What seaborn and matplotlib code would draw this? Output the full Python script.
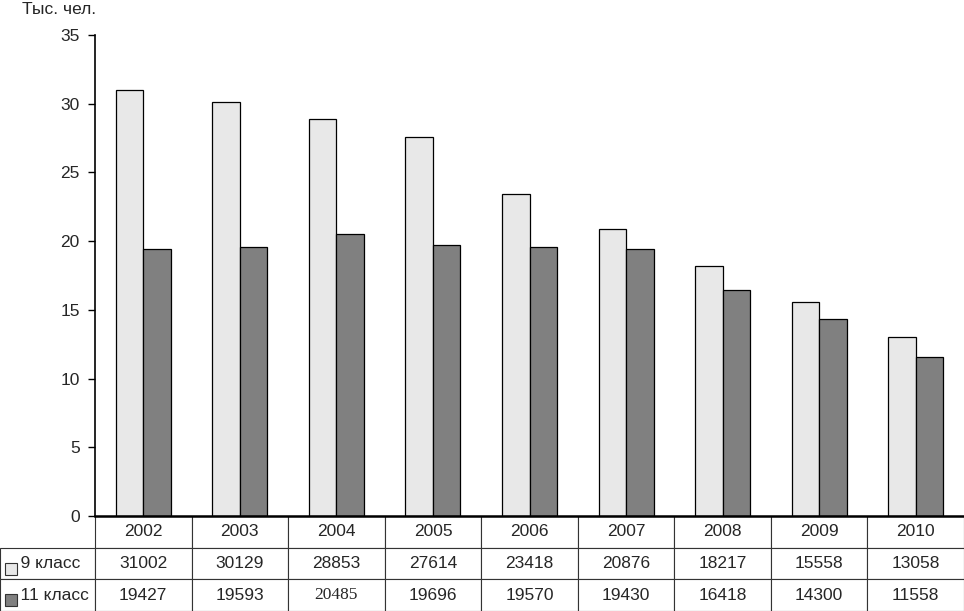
import pandas as pd
import seaborn as sns
import matplotlib.pyplot as plt
from matplotlib.patches import Rectangle

years = ['2002', '2003', '2004', '2005', '2006', '2007', '2008', '2009', '2010']
grade9 = [31002, 30129, 28853, 27614, 23418, 20876, 18217, 15558, 13058]
grade11 = [19427, 19593, 20485, 19696, 19570, 19430, 16418, 14300, 11558]
series_names = ['9 класс', '11 класс']
series_colors = ['#e8e8e8', '#808080']

df = pd.DataFrame({
    'year': years * 2,
    'grade': [series_names[0]] * len(years) + [series_names[1]] * len(years),
    'value': [v / 1000 for v in grade9 + grade11],
})

sns.set_theme(style='white')
plt.rcParams['font.family'] = ['Liberation Sans', 'DejaVu Sans']

W, H = 964, 611
fs = 12.5
fig = plt.figure(figsize=(W / 100, H / 100), dpi=100)
ax = fig.add_axes([95 / W, 1 - 516 / H, 869 / W, 481 / H])

sns.barplot(data=df, x='year', y='value', hue='grade', hue_order=series_names,
            palette=dict(zip(series_names, series_colors)), width=0.57,
            edgecolor='black', linewidth=0.9, legend=False, ax=ax)

ax.set_xlim(-0.5, len(years) - 0.5)
ax.set_ylim(0, 35)
ax.set_yticks(range(0, 36, 5))
ax.tick_params(axis='y', direction='out', length=5, width=1, color='black',
               labelsize=fs, pad=6, left=True)
ax.set_xticks([])
ax.set_xlabel('')
ax.set_ylabel('')
for side in ['top', 'right']:
    ax.spines[side].set_visible(False)
ax.spines['left'].set_color('black')
ax.spines['left'].set_linewidth(1.2)
ax.spines['bottom'].set_color('black')
ax.spines['bottom'].set_linewidth(1.8)
ax.spines['bottom'].set_zorder(5)

# data table under the axis
cell_text = [[''] + years,
             ['    ' + series_names[0]] + [str(v) for v in grade9],
             ['    ' + series_names[1]] + [str(v) for v in grade11]]
col_w = [95 / W] + [869 / 9 / W] * 9
tbl = ax.table(cellText=cell_text, colWidths=col_w, cellLoc='center',
               bbox=[-95 / 869, -95 / 481, W / 869, 95 / 481])
tbl.auto_set_font_size(False)
for (r, c), cell in tbl.get_celld().items():
    cell.set_edgecolor('#333333')
    cell.set_linewidth(0.8)
    cell.get_text().set_fontsize(fs)
    if c == 0:
        cell.get_text().set_horizontalalignment('left')
        cell._loc = 'left'
        cell.PAD = 0.01
tbl[0, 0].visible_edges = ''
tbl[2, 3].get_text().set_fontfamily('Liberation Serif')

# legend keys inside the row label cells
for i, color in enumerate(series_colors):
    fig.patches.append(Rectangle((5, H - 575 - i * 31), 12, 12, transform=None,
                                 facecolor=color, edgecolor='#333333', lw=0.8))

fig.text(22 / W, 1 - 2 / H, 'Тыс. чел.', fontsize=fs, va='top', ha='left')

fig.savefig('out.png', dpi=100)
